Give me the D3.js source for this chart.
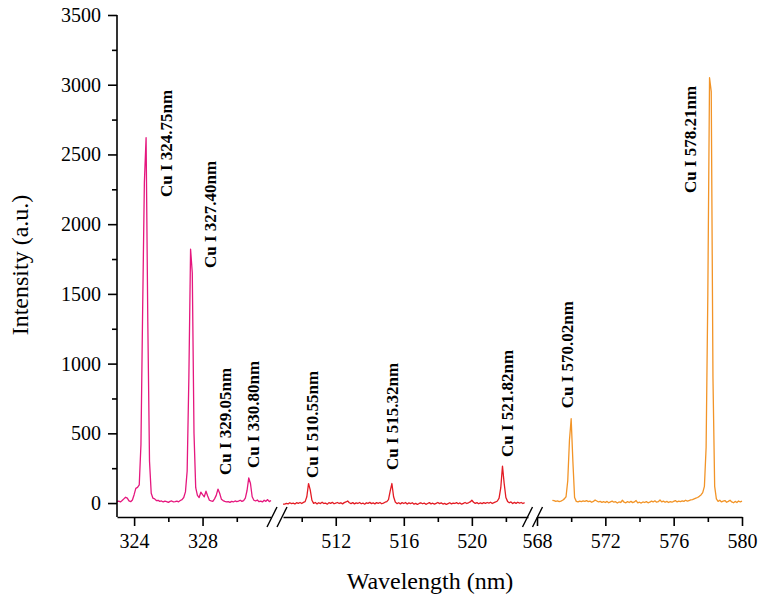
<!DOCTYPE html>
<html>
<head>
<meta charset="utf-8">
<script src="https://cdn.jsdelivr.net/npm/d3@7"></script>
<style>
  body { margin: 0; padding: 0; background: #fff; }
  text { font-family: "Liberation Serif", "Times New Roman", serif; fill: #000; }
</style>
</head>
<body>
<script>
// --- data ---
// each spectrum window: first wavelength, step (nm), intensities
var uvStart = 323.0, uvStep = 0.1;
var uvIntensity = [
  10, 14, 8, 18, 30, 42, 35, 15, 10, 22,
  60, 105, 112, 130, 420, 1400, 2300, 2620, 1300, 300,
  70, 35, 30, 18, 20, 12, 15, 8, 14, 10,
  5, 12, 15, 8, 10, 14, 9, 18, 25, 40,
  80, 230, 900, 1820, 1650, 500, 110, 55, 40, 78,
  60, 45, 85, 50, 20, 15, 12, 30, 55, 100,
  70, 28, 18, 12, 8, 10, 5, 12, 8, 15,
  10, 14, 20, 12, 18, 35, 90, 180, 140, 45,
  20, 15, 22, 10, 14, 8, 20, 12, 25, 10,
  18
];

var greenStart = 508.9, greenStep = 0.1;
var greenIntensity = [
  -7,
  -8, -3, -6, 2, -4, -1, -7, 3, -2, 4,
  -3, 5, 10, 45, 140, 95, 20, -2, 4, -6,
  2, -4, 6, -3, 0, -8, 3, -2, 5, -5,
  0, 4, -3, 2, -6, 3, 8, 15, 2, -4,
  3, -6, 1, -3, 4, -5, 0, -8, 2, -2,
  5, -4, 1, -6, 3, -2, 4, -5, 0, 6,
  10, 25, 85, 140, 45, 8, -4, 2, -6, 3,
  -3, 4, -7, 1, -4, 2, -8, -2, -10, -3,
  2, -5, 0, -9, -3, 3, -6, -1, -8, -2,
  4, -4, 1, -7, -2, -10, -4, 2, -6, 0,
  -3, 3, -5, 1, -8, -2, 4, -3, 2, 8,
  20, 6, -2, 3, -5, 1, -4, 3, -2, 4,
  0, 6, -3, 3, 8, 15, 35, 110, 265, 140,
  40, 12, 2, 8, -3, 5, -2, 6, 0, 4,
  -3, 3
];

var yellowStart = 568.9, yellowStep = 0.1;
var yellowIntensity = [
  20, 18, 12, 15, 10, 14, 20, 30, 45, 160,
  450, 605, 300, 40, 12, 8, 14, 10, 15, 12,
  18, 10, 14, 6, 12, 22, 15, 8, 12, 5,
  10, 4, 12, 2, 8, 14, 6, 10, 0, 8,
  4, 20, 6, 2, 10, 4, 12, 3, 8, 18,
  2, 6, 0, 8, 4, 10, 2, 6, 14, 8,
  16, 6, 10, 22, 8, 14, 6, 12, 4, 10,
  6, 12, 18, 8, 14, 10, 16, 12, 20, 14,
  18, 22, 25, 30, 35, 40, 48, 58, 75, 120,
  400, 1500, 3050, 2950, 900, 120, 30, 12, 20, 8,
  14, 18, 6, 12, 20, 8, 2, 12, 4, 15,
  8, 14
];

// peak labels: text, wavelength where the label sits, intensity where it starts
var peakNames = ["Cu I 324.75nm", "Cu I 327.40nm", "Cu I 329.05nm", "Cu I 330.80nm",
                 "Cu I 510.55nm", "Cu I 515.32nm", "Cu I 521.82nm",
                 "Cu I 570.02nm", "Cu I 578.21nm"];
var peakLabelWl = [325.86, 328.44, 329.31, 330.95, 510.6, 515.31, 522.07, 569.78, 576.96];
var peakLabelY  = [2195, 1685, 201, 251, 179, 237, 330, 680, 2223];

var yTicks = [0, 500, 1000, 1500, 2000, 2500, 3000, 3500];
var yMinor = [250, 750, 1250, 1750, 2250, 2750, 3250];
var uvTicks = [324, 328], uvMinor = [326, 330];
var greenTicks = [512, 516, 520], greenMinor = [510, 514, 518, 522];
var yellowTicks = [568, 572, 576, 580], yellowMinor = [570, 574, 578];

var width = 761, height = 601;
var serif = "'Liberation Serif', 'Times New Roman', serif";

var svg = d3.select("body").append("svg")
  .attr("width", width)
  .attr("height", height);

var y = d3.scaleLinear().domain([-100, 3500]).range([517, 15]);

// three x windows with breaks between them
var segs = [
  { x: d3.scaleLinear().domain([323, 332]).range([117, 271]),
    start: uvStart, step: uvStep, vals: uvIntensity, color: "#e5177e",
    ticks: uvTicks, minor: uvMinor },
  { x: d3.scaleLinear().domain([508.9, 523.3]).range([283, 528]),
    start: greenStart, step: greenStep, vals: greenIntensity, color: "#e31b23",
    ticks: greenTicks, minor: greenMinor },
  { x: d3.scaleLinear().domain([568, 580]).range([537, 742]),
    start: yellowStart, step: yellowStep, vals: yellowIntensity, color: "#f29427",
    ticks: yellowTicks, minor: yellowMinor }
];

function segFor(wl) {
  for (var i = 0; i < segs.length; i++) {
    var d = segs[i].x.domain();
    if (wl >= d[0] - 0.5 && wl <= d[1] + 0.5) return segs[i];
  }
  return segs[0];
}

// spectra
segs.forEach(function(s) {
  var pts = s.vals.map(function(v, i) { return [s.start + i * s.step, v]; });
  var line = d3.line()
    .x(function(d) { return s.x(d[0]); })
    .y(function(d) { return y(d[1]); });
  svg.append("path")
    .datum(pts)
    .attr("d", line)
    .attr("fill", "none")
    .attr("stroke", s.color)
    .attr("stroke-width", 1.3)
    .attr("stroke-linejoin", "round");
});

// y axis
var yAxis = svg.append("g")
  .attr("transform", "translate(117,0)")
  .call(d3.axisLeft(y).tickValues(yTicks).tickSize(9).tickSizeOuter(0).tickPadding(7)
    .tickFormat(d3.format("d")));
svg.append("g")
  .attr("transform", "translate(117,0)")
  .call(d3.axisLeft(y).tickValues(yMinor).tickSize(5).tickFormat(""))
  .select(".domain").remove();
yAxis.select(".domain").attr("d", "M0," + y(-100) + "V" + y(3500));

// x axes
segs.forEach(function(s) {
  svg.append("g")
    .attr("transform", "translate(0,517)")
    .call(d3.axisBottom(s.x).tickValues(s.ticks).tickSize(9).tickSizeOuter(0).tickPadding(8)
      .tickFormat(d3.format("d")));
  svg.append("g")
    .attr("transform", "translate(0,517)")
    .call(d3.axisBottom(s.x).tickValues(s.minor).tickSize(5).tickFormat(""))
    .select(".domain").remove();
});

svg.selectAll("g").attr("font-family", serif);
svg.selectAll(".domain, .tick line")
  .attr("stroke", "#000")
  .attr("stroke-width", 1.6);
svg.selectAll(".tick text")
  .style("font-family", serif)
  .style("font-size", "20px")
  .attr("fill", "#000");

// break marks
for (var i = 0; i < segs.length - 1; i++) {
  var cx = (segs[i].x.range()[1] + segs[i + 1].x.range()[0]) / 2;
  [-5, 5].forEach(function(off) {
    svg.append("line")
      .attr("x1", cx + off - 5).attr("y1", 527)
      .attr("x2", cx + off + 5).attr("y2", 507)
      .attr("stroke", "#000")
      .attr("stroke-width", 1.4);
  });
}

// peak labels
peakNames.forEach(function(name, i) {
  var s = segFor(peakLabelWl[i]);
  svg.append("text")
    .attr("transform", "translate(" + s.x(peakLabelWl[i]) + "," + y(peakLabelY[i]) + ") rotate(-90)")
    .attr("dy", "0.35em")
    .style("font-size", "17px")
    .style("font-weight", "bold")
    .text(name);
});

// axis titles
svg.append("text")
  .attr("transform", "translate(28,265) rotate(-90)")
  .attr("text-anchor", "middle")
  .style("font-size", "24px")
  .text("Intensity (a.u.)");

svg.append("text")
  .attr("x", 430)
  .attr("y", 589)
  .attr("text-anchor", "middle")
  .style("font-size", "24px")
  .text("Wavelength (nm)");
</script>
</body>
</html>
